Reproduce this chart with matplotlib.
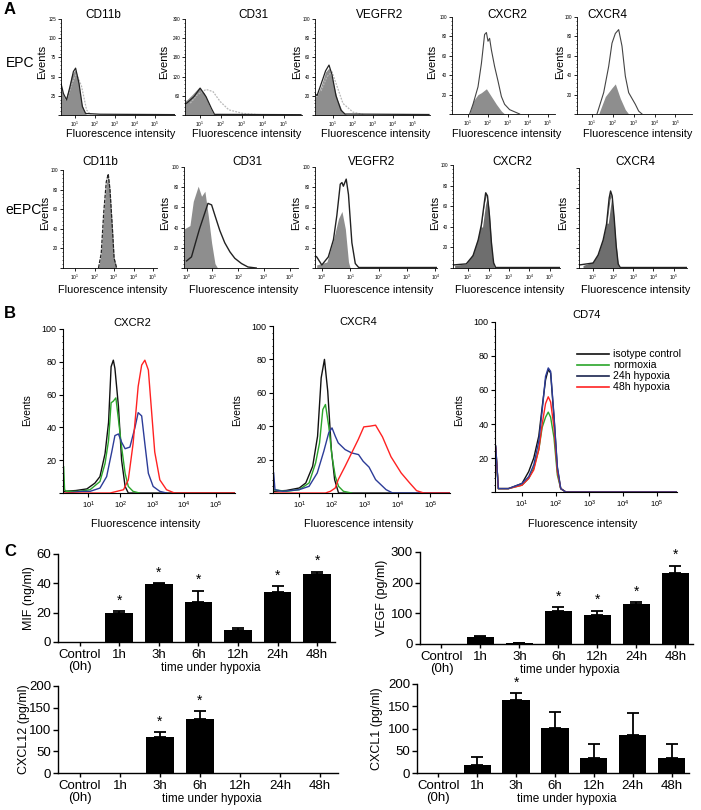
import numpy as np
import matplotlib
matplotlib.use("Agg")
from matplotlib import pyplot as plt
from matplotlib.ticker import LogLocator, NullFormatter, MultipleLocator

plt.rcParams['font.family'] = ['Liberation Sans', 'DejaVu Sans']
plt.rcParams['mathtext.default'] = 'regular'

# ---------------- data: panel A (EPC row), x = log10 fluorescence ----------------
cd11b_epc_fill_x = [0.3, 0.33, 0.5, 0.67, 0.83, 1.0, 1.17, 1.33, 1.5, 1.65]
cd11b_epc_fill_y = [30, 32.7, 19.6, 32.7, 52, 58.8, 45.7, 15, 2, 0]
cd11b_epc_line_x = [0.3, 0.42, 0.58, 0.75, 0.92, 1.03, 1.2, 1.37, 1.53, 2.25, 6.0]
cd11b_epc_line_y = [41, 28, 19.6, 37, 56.6, 61, 41, 11, 2, 1, 0.5]
cd11b_epc_dot_x = [0.6, 0.83, 1.08, 1.33, 1.58, 1.8]
cd11b_epc_dot_y = [20, 40, 54, 37, 6.5, 0]

cd31_epc_fill_x = [0.3, 0.38, 0.63, 0.97, 1.22, 1.47, 1.63, 1.8]
cd31_epc_fill_y = [45, 47, 63, 87, 68, 26, 5, 0]
cd31_epc_line_x = [0.3, 0.38, 0.72, 1.02, 1.3, 1.55, 1.7, 5.8]
cd31_epc_line_y = [35, 37, 57, 84, 57, 21, 2, 1]
cd31_epc_dot_x = [0.55, 0.88, 1.3, 1.63, 1.97, 2.38, 3.05, 3.8, 5.8]
cd31_epc_dot_y = [37, 63, 80, 73, 42, 16, 5, 1, 1]

vegfr2_epc_fill_x = [0.12, 0.18, 0.4, 0.63, 0.8, 0.97, 1.22, 1.47, 1.7]
vegfr2_epc_fill_y = [20, 19, 30, 45, 49, 37, 16, 3.5, 0]
vegfr2_epc_line_x = [0.12, 0.2, 0.4, 0.63, 0.8, 0.95, 1.15, 1.4, 1.6, 5.8]
vegfr2_epc_line_y = [22, 20, 32, 46, 52, 42, 20, 5, 1, 0.5]
vegfr2_epc_dot_x = [0.4, 0.7, 0.95, 1.2, 1.5, 2.0, 2.6]
vegfr2_epc_dot_y = [25, 40, 45, 30, 12, 3, 0]

cxcr2_epc_fill_x = [1.08, 1.25, 1.5, 1.67, 1.92, 2.17, 2.42, 2.67, 2.83]
cxcr2_epc_fill_y = [0, 13, 20, 22, 26, 18, 10, 3, 0]
cxcr2_epc_line_x = [1.08, 1.25, 1.5, 1.67, 1.83, 1.92, 2.0, 2.08, 2.17, 2.33, 2.5, 2.67, 2.83, 3.08, 3.58]
cxcr2_epc_line_y = [0, 10, 28, 52, 82, 84, 75, 78, 66, 49, 34, 18, 10, 4.5, 0]

cxcr4_epc_fill_x = [1.32, 1.64, 1.96, 2.12, 2.36, 2.6, 2.76]
cxcr4_epc_fill_y = [0, 18, 27, 31, 16, 4.5, 0]
cxcr4_epc_line_x = [1.24, 1.56, 1.8, 1.96, 2.12, 2.28, 2.44, 2.6, 2.76, 2.92, 3.08, 3.24, 3.4]
cxcr4_epc_line_y = [0, 22, 49, 73, 83, 87, 70, 39, 22, 16, 10, 3, 0]

# ---------------- data: panel A (eEPC row) ----------------
cd11b_eepc_fill_x = [2.2, 2.34, 2.47, 2.6, 2.7, 2.79, 2.92, 3.0, 3.13]
cd11b_eepc_fill_y = [0, 14.7, 55.6, 86, 95, 79.5, 38.6, 11, 0]
cd11b_eepc_line_y = [0, 15, 57, 88, 96, 80, 38, 10, 0]

cd31_eepc_fill_x = [-0.1, 0.13, 0.26, 0.45, 0.58, 0.71, 0.84, 0.97, 1.1, 1.2]
cd31_eepc_fill_y = [38.6, 42, 66, 81, 71, 76, 52, 25, 4.4, 0]
cd31_eepc_line_x = [0.0, 0.19, 0.38, 0.5, 0.7, 0.83, 0.97, 1.1, 1.29, 1.48, 1.68, 1.87, 2.13, 2.38, 2.7]
cd31_eepc_line_y = [7, 11, 28, 38.6, 54, 64, 62.5, 52, 37, 25, 16, 9.6, 4.4, 1, 0]

vegfr2_eepc_fill_x = [-0.18, 0.18, 0.41, 0.59, 0.71, 0.83, 0.94, 1.0]
vegfr2_eepc_fill_y = [3, 6, 28, 49, 56, 38.6, 6, 0]
vegfr2_eepc_line_x = [-0.24, -0.18, 0.0, 0.23, 0.41, 0.53, 0.65, 0.71, 0.76, 0.86, 0.94, 1.06, 1.18, 1.3, 4.06]
vegfr2_eepc_line_y = [12, 11, 3, 11, 28, 52, 83, 84.6, 81, 88, 72.7, 25, 4.4, 0.5, 0.5]

cxcr2_eepc_fill_x = [0.34, 0.91, 1.24, 1.49, 1.65, 1.81, 1.89, 2.02, 2.14, 2.25, 2.35]
cxcr2_eepc_fill_y = [2.6, 4, 14, 30, 45, 69, 74, 59, 27, 4, 0]
cxcr2_eepc_line_x = [0.3, 0.91, 1.24, 1.49, 1.65, 1.81, 1.86, 1.95, 2.05, 2.14, 2.25, 2.35, 5.5]
cxcr2_eepc_line_y = [3, 4, 12, 27, 42, 66, 73, 70, 50, 25, 5, 0.5, 0.5]
cxcr2_eepc_white_x = [1.7, 1.85, 1.95, 2.05, 2.15, 2.25, 2.35]
cxcr2_eepc_white_y = [40, 62, 70, 68, 45, 10, 0]

cxcr4_eepc_fill_x = [0.5, 1.0, 1.25, 1.5, 1.67, 1.8, 1.87, 2.0, 2.13, 2.25, 2.33]
cxcr4_eepc_fill_y = [2.6, 6, 14, 30, 46, 71, 76, 59, 27, 2.6, 0]
cxcr4_eepc_line_x = [0.3, 1.0, 1.25, 1.5, 1.67, 1.8, 1.87, 1.95, 2.05, 2.15, 2.25, 2.35, 5.67]
cxcr4_eepc_line_y = [3, 5, 13, 28, 44, 70, 77, 72, 50, 22, 4, 0.5, 0.5]
cxcr4_eepc_white_x = [1.75, 1.9, 2.0, 2.1, 2.2, 2.3, 2.4]
cxcr4_eepc_white_y = [45, 68, 72, 65, 40, 8, 0]

# ---------------- data: panel B ----------------
b_labels = ["isotype control", "normoxia", "24h hypoxia", "48h hypoxia"]

cxcr2_iso_x = [0.22, 0.6, 0.95, 1.2, 1.36, 1.52, 1.63, 1.71, 1.78, 1.83, 1.94, 2.04, 2.15, 2.25, 5.6]
cxcr2_iso_y = [1, 1.5, 2.5, 6, 10, 24, 43, 77, 81, 76, 53, 20, 4, 0, 0]
cxcr2_norm_x = [0.22, 0.25, 0.3, 0.7, 1.05, 1.36, 1.52, 1.63, 1.71, 1.78, 1.86, 1.94, 2.04, 2.15, 2.25, 2.4, 2.6]
cxcr2_norm_y = [16, 2, 1, 1, 2, 7, 18, 32, 55, 56, 58, 45, 28, 12, 4, 1, 0]
cxcr2_24h_x = [0.3, 0.8, 1.05, 1.36, 1.57, 1.73, 1.83, 1.94, 2.04, 2.15, 2.3, 2.46, 2.56, 2.67, 2.77, 2.88, 3.03, 3.24, 3.45]
cxcr2_24h_y = [0, 1, 1, 3, 10, 25, 35, 36, 31, 27, 28, 40, 49, 47, 30, 12, 4, 1, 0]
cxcr2_48h_x = [0.22, 1.68, 2.1, 2.25, 2.4, 2.56, 2.67, 2.77, 2.88, 2.98, 3.08, 3.24, 3.45, 3.7, 5.6]
cxcr2_48h_y = [0, 0, 2, 8, 30, 65, 78, 81, 75, 50, 25, 8, 2, 0, 0]

cxcr4_iso_x = [0.22, 0.6, 1.0, 1.2, 1.41, 1.56, 1.67, 1.77, 1.87, 1.98, 2.08, 2.2, 5.6]
cxcr4_iso_y = [1, 1.5, 3, 6, 16, 34, 69, 80, 61, 26, 8, 0, 0]
cxcr4_norm_x = [0.22, 0.6, 1.0, 1.3, 1.5, 1.62, 1.72, 1.8, 1.9, 2.0, 2.1, 2.2, 2.35, 2.6]
cxcr4_norm_y = [2, 1, 2, 6, 18, 30, 50, 53, 40, 22, 10, 4, 1, 0]
cxcr4_24h_x = [0.22, 0.26, 0.5, 1.0, 1.3, 1.55, 1.75, 1.9, 2.0, 2.1, 2.19, 2.4, 2.6, 2.81, 2.95, 3.13, 3.33, 3.65, 3.85, 5.6]
cxcr4_24h_y = [12, 2, 1, 2, 4, 12, 25, 36, 39, 34, 30, 26, 24, 23, 19, 15.5, 8, 2, 0, 0]
cxcr4_48h_x = [0.22, 1.8, 1.95, 2.1, 2.19, 2.4, 2.6, 2.8, 2.97, 3.15, 3.33, 3.54, 3.8, 4.11, 4.37, 4.58, 4.8, 5.6]
cxcr4_48h_y = [0, 0, 1, 3, 8, 16, 24, 32, 39.6, 40, 40.6, 33.6, 21.7, 12, 6, 1.4, 0, 0]

cd74_x = [0.22, 0.3, 0.6, 1.0, 1.2, 1.35, 1.5, 1.6, 1.7, 1.78, 1.85, 1.95, 2.05, 2.15, 2.3, 5.6]
cd74_iso_y = [27, 2, 2, 5, 12, 20, 33, 50, 66, 72, 70, 44, 14, 2, 0, 0]
cd74_norm_y = [25, 2, 2, 4, 8, 14, 25, 38, 44, 47, 44, 32, 10, 2, 0, 0]
cd74_24h_y = [27, 2, 2, 5, 9, 16, 30, 48, 68, 73, 71, 45, 15, 2, 0, 0]
cd74_48h_y = [26, 2, 2, 4, 8, 13, 25, 40, 52, 56, 53, 38, 12, 2, 0, 0]

# ---------------- data: panel C ----------------
timepoints = ["Control\n(0h)", "1h", "3h", "6h", "12h", "24h", "48h"]
mif_mean = [0, 19.5, 39.5, 27, 8.5, 34, 46.5]
mif_err = [0, 1.5, 0.8, 8, 0.8, 4, 1.5]
mif_star = [False, True, True, True, False, True, True]
vegf_mean = [0, 22, 3, 108, 93, 130, 230]
vegf_err = [0, 3, 1, 12, 15, 7, 25]
vegf_star = [False, False, False, True, True, True, True]
cxcl12_mean = [0, 0, 82, 125, 0, 0, 0]
cxcl12_err = [0, 0, 12, 18, 0, 0, 0]
cxcl12_star = [False, False, True, True, False, False, False]
cxcl1_mean = [0, 18, 165, 102, 33, 85, 33]
cxcl1_err = [0, 17, 15, 35, 33, 50, 33]
cxcl1_star = [False, False, True, False, False, False, False]

W, H = 701, 810
fig = plt.figure(figsize=(W / 100, H / 100), dpi=100)


def add_ax(x0, y0, x1, y1):
    return fig.add_axes([x0 / W, 1 - y1 / H, (x1 - x0) / W, (y1 - y0) / H])


def ftext(x, y, s, **kw):
    fig.text(x / W, 1 - y / H, s, **kw)


def lg(v):
    return 10.0 ** np.array(v)


def style_flow(ax, xlim, ymax, ystep, exps, fs_x, fs_y, ylabels=True, lw=0.6):
    ax.set_xscale('log')
    ax.set_xlim(10 ** xlim[0], 10 ** xlim[1])
    ax.set_ylim(0, ymax)
    ax.spines[['top', 'right']].set_visible(False)
    for s in ['left', 'bottom']:
        ax.spines[s].set_linewidth(lw)
    ax.set_xticks([10.0 ** e for e in exps])
    ax.set_xticklabels(['$10^{%d}$' % e for e in exps], fontsize=fs_x)
    ax.xaxis.set_minor_locator(LogLocator(base=10, subs=np.arange(2, 10)))
    ax.xaxis.set_minor_formatter(NullFormatter())
    yt = np.arange(0, ymax + 0.1, ystep)
    ax.set_yticks(yt)
    ax.set_yticklabels([('%g' % t if (t > 0 and ylabels) else '') for t in yt], fontsize=fs_y)
    ax.yaxis.set_minor_locator(MultipleLocator(ystep / 5))
    ax.tick_params(which='major', length=2, width=lw, pad=1.5)
    ax.tick_params(which='minor', length=1, width=lw * 0.8)


# ---------------- panel A ----------------
ftext(4, 9, "A", fontsize=12, fontweight='bold', va='center')
ftext(20, 63, "EPC", fontsize=10, ha='center', va='center')
ftext(23, 210, "eEPC", fontsize=10, ha='center', va='center')

fill_c = '#8e8e8e'
dark_fill = '#6e6e6e'

row1 = [
    ("CD11b", (61, 19, 175, 115), (0.3, 6.0), 125, 25, cd11b_epc_fill_x, cd11b_epc_fill_y,
     cd11b_epc_line_x, cd11b_epc_line_y, cd11b_epc_dot_x, cd11b_epc_dot_y, 103, 42),
    ("CD31", (185, 19, 302, 115), (0.3, 5.85), 300, 60, cd31_epc_fill_x, cd31_epc_fill_y,
     cd31_epc_line_x, cd31_epc_line_y, cd31_epc_dot_x, cd31_epc_dot_y, 253, 164),
    ("VEGFR2", (315, 19, 430, 115), (0.1, 5.85), 100, 20, vegfr2_epc_fill_x, vegfr2_epc_fill_y,
     vegfr2_epc_line_x, vegfr2_epc_line_y, vegfr2_epc_dot_x, vegfr2_epc_dot_y, 380, 297),
    ("CXCR2", (452, 17, 555, 114), (0.2, 5.35), 100, 20, cxcr2_epc_fill_x, cxcr2_epc_fill_y,
     cxcr2_epc_line_x, cxcr2_epc_line_y, None, None, 507, 432),
    ("CXCR4", (577, 17, 692, 114), (0.28, 5.8), 100, 20, cxcr4_epc_fill_x, cxcr4_epc_fill_y,
     cxcr4_epc_line_x, cxcr4_epc_line_y, None, None, 607, 560),
]
for (name, rect, xl, ymax, ystep, fx, fy, lx, ly, dx, dy, tx, ex) in row1:
    ax = add_ax(*rect)
    ax.fill_between(lg(fx), fy, color=fill_c, lw=0)
    if dx is not None:
        ax.plot(lg(dx), dy, color='#b8b8b8', lw=0.9, ls=(0, (1.5, 1)))
        ax.plot(lg(lx), ly, color='#222222', lw=0.9)
    else:
        ax.plot(lg(lx), ly, color='#444444', lw=0.8)
    style_flow(ax, xl, ymax, ystep, [1, 2, 3, 4, 5], 3.5, 3.3)
    ftext(tx, 15, name, fontsize=8.5, ha='center', va='center')
    ftext(ex, 62, "Events", fontsize=8, rotation=90, ha='center', va='center')
    ftext((rect[0] + rect[2]) / 2 + 3, 134, "Fluorescence intensity", fontsize=7.8,
          ha='center', va='center')

row2 = [
    ("CD11b", (63, 170, 157, 268), (0.38, 5.2), [1, 2, 3, 4, 5], 100, 45),
    ("CD31", (184, 167, 298, 268), (-0.1, 4.32), [0, 1, 2, 3, 4], 247, 165),
    ("VEGFR2", (315, 167, 437, 268), (-0.24, 4.06), [0, 1, 2, 3, 4], 372, 296),
    ("CXCR2", (453, 165, 560, 268), (0.26, 5.5), [1, 2, 3, 4, 5], 512, 435),
    ("CXCR4", (579, 168, 687, 268), (0.3, 5.67), [1, 2, 3, 4, 5], 635, 563),
]
axes2 = []
for (name, rect, xl, exps, tx, ex) in row2:
    ax = add_ax(*rect)
    axes2.append(ax)
    style_flow(ax, xl, 100, 20, exps, 3.5, 3.3, ylabels=(name != "CXCR4"))
    ftext(tx, 162, name, fontsize=8.5, ha='center', va='center')
    ftext(ex, 213, "Events", fontsize=8, rotation=90, ha='center', va='center')
    ftext((rect[0] + rect[2]) / 2 + 3, 290, "Fluorescence intensity", fontsize=7.8,
          ha='center', va='center')

ax = axes2[0]
ax.fill_between(lg(cd11b_eepc_fill_x), cd11b_eepc_fill_y, color=fill_c, lw=0)
ax.plot(lg(cd11b_eepc_fill_x), cd11b_eepc_line_y, color='#222222', lw=0.9, ls=(0, (3, 1)))
ax = axes2[1]
ax.fill_between(lg(cd31_eepc_fill_x), cd31_eepc_fill_y, color=fill_c, lw=0)
ax.plot(lg(cd31_eepc_line_x), cd31_eepc_line_y, color='#222222', lw=1.0)
ax = axes2[2]
ax.fill_between(lg(vegfr2_eepc_fill_x), vegfr2_eepc_fill_y, color=fill_c, lw=0)
ax.plot(lg(vegfr2_eepc_line_x), vegfr2_eepc_line_y, color='#222222', lw=1.0)
ax = axes2[3]
ax.fill_between(lg(cxcr2_eepc_fill_x), cxcr2_eepc_fill_y, color=dark_fill, lw=0)
ax.plot(lg(cxcr2_eepc_white_x), cxcr2_eepc_white_y, color='white', lw=1.0)
ax.plot(lg(cxcr2_eepc_line_x), cxcr2_eepc_line_y, color='#222222', lw=1.0)
ax = axes2[4]
ax.fill_between(lg(cxcr4_eepc_fill_x), cxcr4_eepc_fill_y, color=dark_fill, lw=0)
ax.plot(lg(cxcr4_eepc_white_x), cxcr4_eepc_white_y, color='white', lw=1.0)
ax.plot(lg(cxcr4_eepc_line_x), cxcr4_eepc_line_y, color='#222222', lw=1.0)

# ---------------- panel B ----------------
ftext(4, 313, "B", fontsize=12, fontweight='bold', va='center')
c_iso, c_norm, c_24, c_48 = '#111111', '#2aa52a', '#2c3c98', '#ff2222'

b_panels = [
    ("CXCR2", (63, 329, 235, 493), 132, 323, 27,
     [(cxcr2_iso_x, cxcr2_iso_y, c_iso), (cxcr2_norm_x, cxcr2_norm_y, c_norm),
      (cxcr2_24h_x, cxcr2_24h_y, c_24), (cxcr2_48h_x, cxcr2_48h_y, c_48)]),
    ("CXCR4", (273, 326, 450, 493), 358, 322, 237,
     [(cxcr4_iso_x, cxcr4_iso_y, c_iso), (cxcr4_norm_x, cxcr4_norm_y, c_norm),
      (cxcr4_24h_x, cxcr4_24h_y, c_24), (cxcr4_48h_x, cxcr4_48h_y, c_48)]),
    ("CD74", (495, 322, 677, 492), 587, 315, 459,
     [(cd74_x, cd74_iso_y, c_iso), (cd74_x, cd74_norm_y, c_norm),
      (cd74_x, cd74_48h_y, c_48), (cd74_x, cd74_24h_y, c_24)]),
]
for (name, rect, tx, ty, ex, curves) in b_panels:
    ax = add_ax(*rect)
    for (cx, cy, col) in curves:
        ax.plot(lg(cx), cy, color=col, lw=1.0)
    style_flow(ax, (0.2, 5.6), 100, 20, [1, 2, 3, 4, 5], 5.5, 6.5, lw=0.8)
    ax.tick_params(which='major', length=3)
    ftext(tx, ty, name, fontsize=8, ha='center', va='center')
    ftext(ex, 410, "Events", fontsize=7.5, rotation=90, ha='center', va='center')
    ftext((rect[0] + rect[2]) / 2 - 3, 524, "Fluorescence intensity", fontsize=7.8,
          ha='center', va='center')
    if name == "CD74":
        handles = [plt.Line2D([], [], color=c, lw=1.2) for c in [c_iso, c_norm, '#1a244f', c_48]]
        ax.legend(handles, b_labels, loc='upper left', bbox_to_anchor=(572 / W, 1 - 344 / H),
                  bbox_transform=fig.transFigure, frameon=False, fontsize=7.6,
                  handlelength=3.0, handletextpad=0.4, labelspacing=0.1, borderpad=0)

# ---------------- panel C ----------------
ftext(4, 551, "C", fontsize=12, fontweight='bold', va='center')

c_panels = [
    ("MIF (ng/ml)", (58, 554, 335, 642), 60, 20, mif_mean, mif_err, mif_star, 29, 598),
    ("VEGF (pg/ml)", (420, 552, 693, 644), 300, 100, vegf_mean, vegf_err, vegf_star, 382, 598),
    ("CXCL12 (pg/ml)", (58, 686, 338, 773), 200, 50, cxcl12_mean, cxcl12_err, cxcl12_star, 24, 729),
    ("CXCL1 (pg/ml)", (417, 684, 689, 773), 200, 50, cxcl1_mean, cxcl1_err, cxcl1_star, 377, 729),
]
for (ylab, rect, ymax, ystep, mean, err, star, lx, ly) in c_panels:
    ax = add_ax(*rect)
    xs = np.arange(len(timepoints))
    ax.bar(xs, mean, width=0.7, color='black')
    m = np.array(err) > 0
    ax.errorbar(xs[m], np.array(mean)[m], yerr=[np.zeros(m.sum()), np.array(err)[m]],
                fmt='none', ecolor='black', elinewidth=1.3, capsize=4.5, capthick=1.3)
    for i in range(len(xs)):
        if star[i]:
            ax.text(xs[i], mean[i] + err[i] + ymax * 0.04, '*', ha='center', va='bottom',
                    fontsize=10)
    ax.set_xlim(-0.55, 6.45)
    ax.set_ylim(0, ymax)
    ax.set_yticks(np.arange(0, ymax + 1, ystep))
    ax.set_xticks(xs)
    ax.set_xticklabels(timepoints, fontsize=9.5, linespacing=1.0)
    ax.tick_params(axis='y', labelsize=9.5, length=3.5, width=1, pad=1.5)
    ax.tick_params(axis='x', length=3, width=1, pad=2)
    ax.spines[['top', 'right']].set_visible(False)
    ax.spines[['left', 'bottom']].set_linewidth(1)
    ax.annotate("time under hypoxia", xy=(3.3, 0), xycoords=('data', 'axes fraction'),
                xytext=(0, -19), textcoords='offset points', ha='center', va='center',
                fontsize=8.5)
    ftext(lx, ly, ylab, fontsize=9, rotation=90, ha='center', va='center')

fig.savefig("out.png", dpi=100)
